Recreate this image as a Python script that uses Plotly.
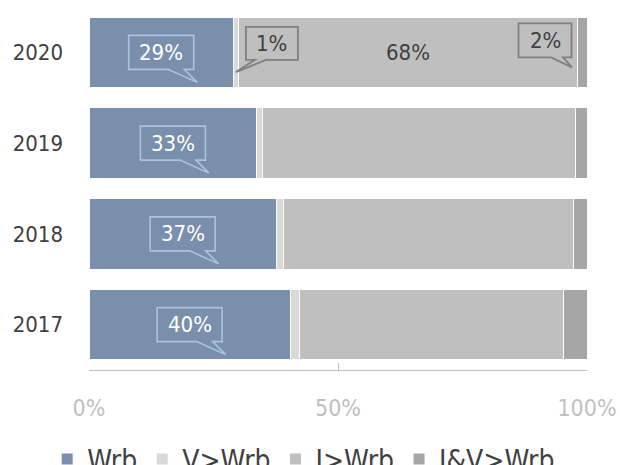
import plotly.graph_objects as go

# ---- data ----
years = ["2017", "2018", "2019", "2020"]
series_names = ["Wrb", "V>Wrb", "I>Wrb", "I&V>Wrb"]
wrb = [40.4, 37.6, 33.7, 29.0]
v_wrb = [1.8, 1.4, 1.1, 1.0]
i_wrb = [53.0, 58.2, 62.8, 68.0]
iv_wrb = [4.8, 2.8, 2.4, 2.0]
wrb_labels = ["40%", "37%", "33%", "29%"]
x_tickvals = [0, 50, 100]
x_ticktext = ["0%", "50%", "100%"]

# ---- styles ----
colors = ["#7A8FAB", "#D9D9D9", "#BFBFBF", "#A6A6A6"]
FONT = "Tahoma, 'DejaVu Sans Condensed', 'DejaVu Sans', sans-serif"
DARK = "#404040"
LIGHT = "#BFBFBF"

series = [wrb, v_wrb, i_wrb, iv_wrb]
ypos = list(range(len(years)))

fig = go.Figure()
for name, vals, col in zip(series_names, series, colors):
    fig.add_trace(go.Bar(
        y=ypos, x=vals, name=name, orientation="h",
        marker=dict(color=col, line=dict(color="white", width=1)),
        hoverinfo="skip",
    ))


def callout_path(cx, cy, w, h, b1, b2, tx, ty):
    """Box centred at (cx,cy) (screen px, y down) with a wedge on the bottom
    edge between b1..b2 (relative to box centre) reaching tip (tx,ty)."""
    L, R = cx - w / 2, cx + w / 2
    T, B = cy - h / 2, cy + h / 2
    pts = [(L, T), (R, T), (R, B), (cx + max(b1, b2), B), (cx + tx, cy + ty),
           (cx + min(b1, b2), B), (L, B)]
    # plotly pixel y is positive upward
    return "M" + " L".join(f"{x:.1f},{-y:.1f}" for x, y in pts) + " Z"


def add_callout(xval, yval, path, color, width):
    fig.add_shape(type="path", xref="x", yref="y",
                  xsizemode="pixel", ysizemode="pixel",
                  xanchor=xval, yanchor=yval, path=path,
                  line=dict(color=color, width=width),
                  fillcolor="rgba(0,0,0,0)", layer="above")


annotations = []
for yp, val, lab in zip(ypos, wrb, wrb_labels):
    xc = val / 2
    add_callout(xc, yp, callout_path(0, 0, 65, 34, 7, 23, 36, 30), "#A9C4E2", 1.6)
    annotations.append(dict(x=xc, y=yp, xref="x", yref="y", text=lab,
                            showarrow=False, font=dict(size=22, color="white", family=FONT)))

i20 = years.index("2020")
y20 = ypos[i20]
base_v = wrb[i20]
xv = base_v + v_wrb[i20] / 2
xi = base_v + v_wrb[i20] + i_wrb[i20] / 2
xiv = base_v + v_wrb[i20] + i_wrb[i20] + iv_wrb[i20] / 2

add_callout(xv, y20, callout_path(36, -9, 52, 33, -17, -6, -36, 28.7), "#808080", 1.8)
annotations.append(dict(x=xv, y=y20, xref="x", yref="y", text=f"{v_wrb[i20]:.0f}%",
                        xshift=36, yshift=9, showarrow=False,
                        font=dict(size=22, color=DARK, family=FONT)))
annotations.append(dict(x=xi, y=y20, xref="x", yref="y", text=f"{i_wrb[i20]:.0f}%",
                        showarrow=False, font=dict(size=22, color=DARK, family=FONT)))
add_callout(xiv, y20, callout_path(-37, -12, 53, 34, 6, 18, 27, 27), "#808080", 1.8)
annotations.append(dict(x=xiv, y=y20, xref="x", yref="y", text=f"{iv_wrb[i20]:.0f}%",
                        xshift=-37, yshift=12, showarrow=False,
                        font=dict(size=22, color=DARK, family=FONT)))

fig.update_layout(
    width=620, height=465,
    margin=dict(l=89, r=33, t=7, b=95, autoexpand=False),
    paper_bgcolor="white", plot_bgcolor="white",
    barmode="stack", bargap=0.225,
    font=dict(family=FONT, size=22, color=DARK),
    showlegend=True,
    legend=dict(orientation="h", x=-0.084, xanchor="left", y=-0.246, yanchor="middle",
                font=dict(size=28, color=DARK, family=FONT), traceorder="normal",
                bgcolor="rgba(0,0,0,0)"),
    annotations=annotations,
    xaxis=dict(range=[0, 100], tickvals=x_tickvals, ticktext=x_ticktext,
               showgrid=False, zeroline=False, showline=True, linecolor=LIGHT,
               linewidth=1, ticks="inside", ticklen=7, tickcolor=LIGHT,
               tickfont=dict(size=23, color=LIGHT, family=FONT),
               ticklabelstandoff=17, automargin=False, fixedrange=True),
    yaxis=dict(range=[-0.5, len(years) - 0.5], tickvals=ypos, ticktext=years,
               showgrid=False, zeroline=False, showline=False, ticks="",
               tickfont=dict(size=22, color=DARK, family=FONT),
               ticklabelstandoff=25, automargin=False, fixedrange=True),
)

fig.write_html("out.html", config={"displayModeBar": False, "staticPlot": True},
               post_script="document.body.style.margin='0';document.body.style.overflow='hidden';")
